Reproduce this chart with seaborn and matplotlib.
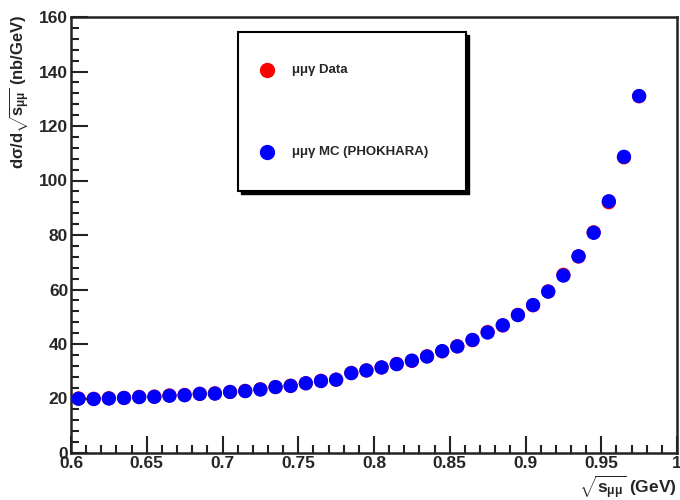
import numpy as np
import pandas as pd
import matplotlib
matplotlib.use("Agg")
import matplotlib.pyplot as plt
import seaborn as sns
from matplotlib.ticker import MultipleLocator
from matplotlib.patches import Rectangle

sqrt_s = [0.605, 0.615, 0.625, 0.635, 0.645, 0.655, 0.665, 0.675, 0.685, 0.695,
          0.705, 0.715, 0.725, 0.735, 0.745, 0.755, 0.765, 0.775, 0.785, 0.795,
          0.805, 0.815, 0.825, 0.835, 0.845, 0.855, 0.865, 0.875, 0.885, 0.895,
          0.905, 0.915, 0.925, 0.935, 0.945, 0.955, 0.965, 0.975]
mc_values = [19.9, 19.8, 20.0, 20.2, 20.5, 20.6, 21.0, 21.2, 21.7, 21.8,
             22.4, 22.7, 23.3, 24.2, 24.6, 25.6, 26.4, 26.9, 29.3, 30.3,
             31.4, 32.6, 33.9, 35.4, 37.4, 39.1, 41.5, 44.2, 46.9, 50.6,
             54.3, 59.2, 65.1, 72.2, 80.8, 92.4, 108.7, 131.0]
data_values = [20.0, 19.9, 20.1, 20.2, 20.6, 20.7, 21.1, 21.3, 21.7, 21.9,
               22.4, 22.8, 23.4, 24.2, 24.7, 25.6, 26.5, 26.9, 29.4, 30.3,
               31.4, 32.7, 33.8, 35.5, 37.3, 39.2, 41.4, 44.4, 46.8, 50.7,
               54.2, 59.3, 65.4, 72.1, 81.0, 92.0, 108.5, 130.9]
series_labels = ["\u03bc\u03bc\u03b3 Data", "\u03bc\u03bc\u03b3 MC (PHOKHARA)"]
x_ticks = [0.6, 0.65, 0.7, 0.75, 0.8, 0.85, 0.9, 0.95, 1.0]
x_tick_labels = ["0.6", "0.65", "0.7", "0.75", "0.8", "0.85", "0.9", "0.95", "1"]
y_ticks = [0, 20, 40, 60, 80, 100, 120, 140, 160]

sns.set_style("white")
plt.rcParams['font.family'] = ['Liberation Sans', 'DejaVu Sans']
plt.rcParams['mathtext.fontset'] = 'custom'
plt.rcParams['mathtext.rm'] = 'Liberation Sans:bold'
plt.rcParams['mathtext.it'] = 'Liberation Sans:bold'
plt.rcParams['mathtext.bf'] = 'Liberation Sans:bold'

df = pd.DataFrame({
    "x": sqrt_s + sqrt_s,
    "y": data_values + mc_values,
    "series": [series_labels[0]] * len(sqrt_s) + [series_labels[1]] * len(sqrt_s),
})

fig = plt.figure(figsize=(6.8, 5.0), dpi=100)
ax = fig.add_axes([71/680, 1 - 453/500, (677-71)/680, (453-17)/500])

sns.scatterplot(data=df, x="x", y="y", hue="series",
                palette={series_labels[0]: "#ff0000", series_labels[1]: "#0000ff"},
                s=105, linewidth=0, ax=ax, legend=False, zorder=3)

ax.set_xlim(0.6, 1.0)
ax.set_ylim(0, 160)
ax.set_xticks(x_ticks)
ax.set_xticklabels(x_tick_labels)
ax.set_yticks(y_ticks)
ax.xaxis.set_minor_locator(MultipleLocator(0.01))
ax.yaxis.set_minor_locator(MultipleLocator(4))
ax.tick_params(axis='both', which='major', direction='in', length=12, width=1.5,
               labelsize=12.5, top=False, right=False, bottom=True, left=True,
               pad=2, color='#222222')
ax.tick_params(axis='both', which='minor', direction='in', length=6, width=1.5,
               top=False, right=False, bottom=True, left=True, color='#222222')
for lab in ax.get_xticklabels() + ax.get_yticklabels():
    lab.set_fontweight('bold')
for sp in ax.spines.values():
    sp.set_linewidth(1.8)
    sp.set_color('#222222')
ax.set_xlabel("")
ax.set_ylabel("")

fig.text(677/680, 1 - 487/500, r"$\sqrt{s_{\mu\mu}}$ (GeV)", ha='right', va='center',
         fontsize=12.5, fontweight='bold')
fig.text(20/680, 1 - 14/500, r"d$\sigma$/d$\sqrt{s_{\mu\mu}}$ (nb/GeV)", rotation=90,
         ha='center', va='top', fontsize=12, fontweight='bold')

# legend box with shadow
lx0, ly0, lx1, ly1 = 238, 32, 466, 191
sx, sy = (lx0 + 3) / 680, 1 - (ly1 + 3) / 500
fig.patches.append(Rectangle((sx, sy), (lx1 - lx0) / 680, (ly1 - ly0) / 500,
                             transform=fig.transFigure, facecolor='black',
                             edgecolor='black', zorder=5))
fig.patches.append(Rectangle((lx0 / 680, 1 - ly1 / 500), (lx1 - lx0) / 680, (ly1 - ly0) / 500,
                             transform=fig.transFigure, facecolor='white',
                             edgecolor='black', linewidth=1.5, zorder=6))
for (my, col, lab) in [(70, "#ff0000", series_labels[0]), (152, "#0000ff", series_labels[1])]:
    fig.add_artist(plt.Line2D([267/680], [1 - my/500], marker='o', markersize=10,
                              color=col, linestyle='none', transform=fig.transFigure, zorder=7))
    fig.text(292/680, 1 - my/500, lab, ha='left', va='center', fontsize=9.5,
             fontweight='bold', zorder=7)

fig.savefig("out.png", dpi=100)
